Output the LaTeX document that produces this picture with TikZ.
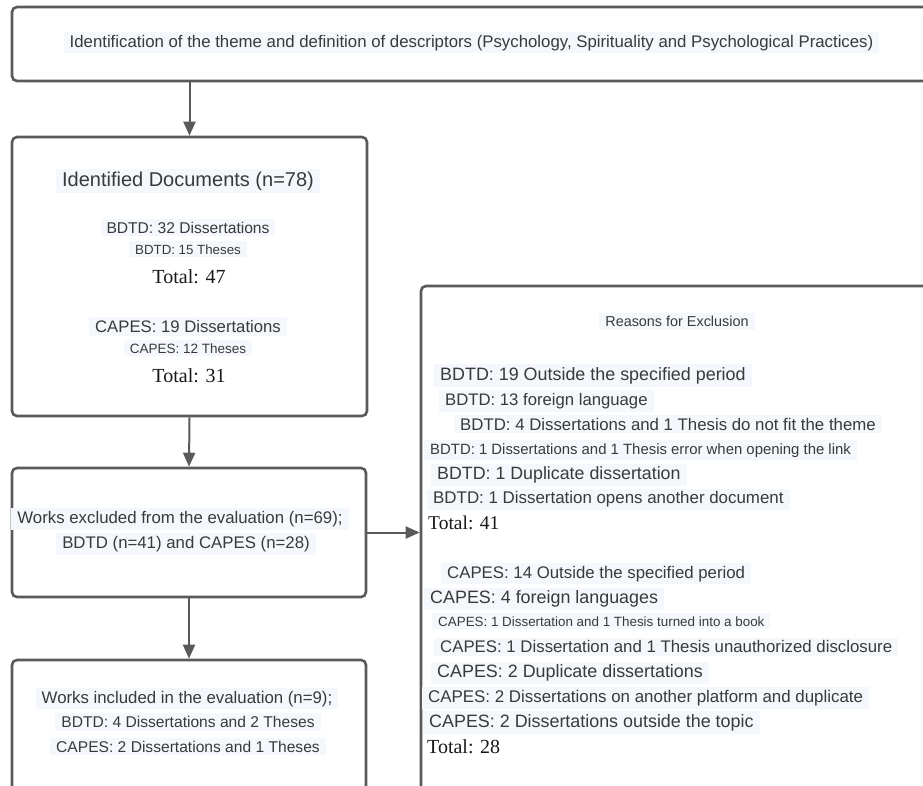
\documentclass[tikz,border=0pt]{standalone}
\usepackage{fontspec}
\setmainfont{Liberation Serif}
\setsansfont{Liberation Sans}
\usetikzlibrary{arrows.meta}
\definecolor{boxgray}{HTML}{5A5A5A}
\definecolor{txtgray}{HTML}{3A3A3A}
\definecolor{hilite}{HTML}{F4F7FB}
\newcommand\fsz[1]{\fontsize{#1pt}{#1pt}\selectfont}
\tikzset{
  box/.style={draw=boxgray, line width=2.6pt, rounded corners=5pt, fill=white, inner sep=0pt},
  flow/.style={draw=boxgray, line width=2pt, -{Triangle[length=14pt,width=12pt]}},
  txt/.style={font=\sffamily, text=txtgray, fill=hilite, inner xsep=6pt, inner ysep=3pt},
  lft/.style={txt, anchor=base west, xshift=-6pt},
  ctr/.style={txt, anchor=base},
  tot/.style={font=\rmfamily, text=black!90, inner sep=0pt},
}

\begin{document}
\begin{tikzpicture}[x=1pt,y=-1pt]
    \useasboundingbox (0,0) rectangle (923,785);
    \clip (0,0) rectangle (923,785);
    % boxes
    \node[box, minimum width=948pt, minimum height=74pt] (ident) at (486,44) {};
    \node[box, minimum width=355pt, minimum height=279pt] (docs) at (189.5,276.5) {};
    \node[box, minimum width=354pt, minimum height=129pt] (excl) at (189,532.5) {};
    \node[box, minimum width=354pt, minimum height=180pt] (incl) at (189,750) {};
    \node[box, minimum width=559pt, minimum height=554pt] (reasons) at (700.5,563) {};
    % arrows
    \draw[flow] (ident.south -| docs.north) -- (docs.north);
    \draw[flow] (docs.south) -- (excl.north);
    \draw[flow] (excl.south) -- (incl.north);
    \draw[flow] (excl.east) -- (excl.east -| reasons.west);
    % top box
    \node[ctr, font=\sffamily\fsz{16.8}] (identtxt) at (471.5,47) {Identification of the theme and definition of descriptors (Psychology, Spirituality and Psychological Practices)};
    % identified documents
    \node[ctr, font=\sffamily\fsz{20}] (docstitle) at (188,186) {Identified Documents (n=78)};
    \node[ctr, font=\sffamily\fsz{15.6}] (bdtddiss) at (188,233) {BDTD: 32 Dissertations};
    \node[ctr, font=\sffamily\fsz{13.3}] (bdtdthes) at (188,254) {BDTD: 15 Theses};
    \node[tot, anchor=base, font=\rmfamily\fsz{20}] (bdtdtot) at (189,283) {Total: 47};
    \node[ctr, font=\sffamily\fsz{16.7}] (capesdiss) at (188,332.5) {CAPES: 19 Dissertations};
    \node[ctr, font=\sffamily\fsz{13.5}] (capesthes) at (188,353) {CAPES: 12 Theses};
    \node[tot, anchor=base, font=\rmfamily\fsz{20}] (capestot) at (189,382.5) {Total: 31};
    % excluded / included
    \node[ctr, font=\sffamily\fsz{16.8}] (excla) at (180,523.3) {Works excluded from the evaluation (n=69);};
    \node[ctr, font=\sffamily\fsz{16.8}] (exclb) at (186,548.3) {BDTD (n=41) and CAPES (n=28)};
    \node[ctr, font=\sffamily\fsz{16.8}] (incla) at (187,703) {Works included in the evaluation (n=9);};
    \node[ctr, font=\sffamily\fsz{15.6}] (inclb) at (188,727.5) {BDTD: 4 Dissertations and 2 Theses};
    \node[ctr, font=\sffamily\fsz{15.6}] (inclc) at (188,752) {CAPES: 2 Dissertations and 1 Theses};
    % reasons for exclusion
    \node[ctr, font=\sffamily\fsz{14.4}] (reasonstitle) at (677,326.7) {Reasons for Exclusion};
    \node[lft, font=\sffamily\fsz{17.9}] (bdtdr1) at (440,380) {BDTD: 19 Outside the specified period};
    \node[lft, font=\sffamily\fsz{16.7}] (bdtdr2) at (445,405.3) {BDTD: 13 foreign language};
    \node[lft, font=\sffamily\fsz{16.8}] (bdtdr3) at (460,430.3) {BDTD: 4 Dissertations and 1 Thesis do not fit the theme};
    \node[lft, font=\sffamily\fsz{14.9}] (bdtdr4) at (430,454) {BDTD: 1 Dissertations and 1 Thesis error when opening the link};
    \node[lft, font=\sffamily\fsz{17.8}] (bdtdr5) at (437,479.5) {BDTD: 1 Duplicate dissertation};
    \node[lft, font=\sffamily\fsz{16.9}] (bdtdr6) at (433,503.8) {BDTD: 1 Dissertation opens another document};
    \node[tot, anchor=base west, font=\rmfamily\fsz{19.5}] (bdtdrtot) at (428,529.3) {Total: 41};
    \node[lft, font=\sffamily\fsz{16.8}] (capesr1) at (447,578) {CAPES: 14 Outside the specified period};
    \node[lft, font=\sffamily\fsz{17.9}] (capesr2) at (430,603.5) {CAPES: 4 foreign languages};
    \node[lft, font=\sffamily\fsz{13.4}] (capesr3) at (438,626) {CAPES: 1 Dissertation and 1 Thesis turned into a book};
    \node[lft, font=\sffamily\fsz{16.8}] (capesr4) at (440,652.7) {CAPES: 1 Dissertation and 1 Thesis unauthorized disclosure};
    \node[lft, font=\sffamily\fsz{17.9}] (capesr5) at (437,677.5) {CAPES: 2 Duplicate dissertations};
    \node[lft, font=\sffamily\fsz{16.9}] (capesr6) at (428,702.7) {CAPES: 2 Dissertations on another platform and duplicate};
    \node[lft, font=\sffamily\fsz{17.9}] (capesr7) at (429,727) {CAPES: 2 Dissertations outside the topic};
    \node[tot, anchor=base west, font=\rmfamily\fsz{20}] (capesrtot) at (427,753.3) {Total: 28};
\end{tikzpicture}
\end{document}
